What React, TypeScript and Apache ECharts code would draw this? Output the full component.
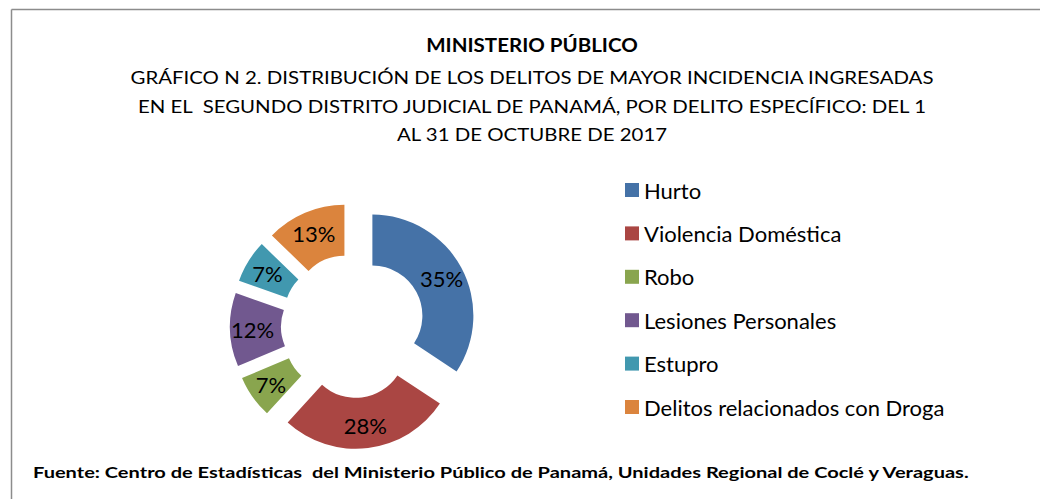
import React, { useEffect, useRef } from "react";
import * as echarts from "echarts";

const categories = [
  "Hurto",
  "Violencia Doméstica",
  "Robo",
  "Lesiones Personales",
  "Estupro",
  "Delitos relacionados con Droga",
];
const percentages = [35, 28, 7, 12, 7, 13];
const colors = ["#4572A7", "#AA4643", "#89A54E", "#71588F", "#4198AF", "#DB843D"];

const titleMain = "MINISTERIO PÚBLICO";
const titleLines = [
  "GRÁFICO N 2. DISTRIBUCIÓN DE LOS DELITOS DE MAYOR INCIDENCIA INGRESADAS",
  "EN EL  SEGUNDO DISTRITO JUDICIAL DE PANAMÁ, POR DELITO ESPECÍFICO: DEL 1",
  "AL 31 DE OCTUBRE DE 2017",
];
const footer =
  "Fuente: Centro de Estadísticas  del Ministerio Público de Panamá, Unidades Regional de Coclé y Veraguas.";

const FONT = "Lato, 'Noto Sans', sans-serif";

function textEl(text: string, x: number, y: number, size: number, bold: boolean, sx: number, align: string) {
  return {
    type: "text",
    x,
    y,
    scaleX: sx,
    scaleY: 1,
    silent: true,
    style: {
      text,
      fill: "#000",
      font: `${bold ? "bold " : ""}${size}px ${FONT}`,
      fontFamily: FONT,
      fontSize: size,
      fontWeight: bold ? "bold" : "normal",
      align,
      verticalAlign: "middle",
      textAlign: align,
      textVerticalAlign: "middle",
    },
  };
}

export default function App() {
  const ref = useRef<HTMLDivElement>(null);
  useEffect(() => {
    document.body.style.margin = "0";
    const chart = echarts.init(ref.current!, null, { renderer: "svg" });
    chart.setOption({
      animation: false,
      backgroundColor: "#ffffff",
      legend: {
        orient: "vertical",
        left: 625,
        top: 179,
        padding: 0,
        icon: "rect",
        itemWidth: 14,
        itemHeight: 14,
        itemGap: 21.4,
        selectedMode: false,
        textStyle: { fontFamily: FONT, fontSize: 22, color: "#000", lineHeight: 20, padding: [0, 0, 0, 0] },
        data: categories,
      },
      graphic: [
        {
          type: "line",
          shape: { x1: 11.5, y1: 9.5, x2: 1040, y2: 9.5 },
          style: { stroke: "#8c8c8c", lineWidth: 1.5 },
        },
        {
          type: "line",
          shape: { x1: 11.5, y1: 9.5, x2: 11.5, y2: 499 },
          style: { stroke: "#8c8c8c", lineWidth: 1.5 },
        },
        textEl(titleMain, 532, 45, 18, true, 1.14, "center"),
        ...titleLines.map((t, i) => textEl(t, 532, 77 + i * 28.6, 18, false, 1.134, "center")),
        textEl(footer, 33, 472, 15, true, 1.335, "left"),
      ],
      series: [
        {
          type: "pie",
          center: [353, 326],
          radius: [50, 101],
          startAngle: 90,
          clockwise: true,
          selectedMode: "multiple",
          selectedOffset: 22,
          avoidLabelOverlap: false,
          emphasis: { disabled: true },
          label: {
            show: true,
            position: "inside",
            fontFamily: FONT,
            fontSize: 22,
            color: "#000",
            formatter: (p: any) => `${p.value}%`,
          },
          labelLine: { show: false },
          data: categories.map((name, i) => ({
            name,
            value: percentages[i],
            selected: true,
            itemStyle: { color: colors[i] },
          })),
        },
      ],
    });
    return () => chart.dispose();
  }, []);
  return <div ref={ref} style={{ position: "absolute", left: 0, top: 0, width: 1040, height: 499 }} />;
}
